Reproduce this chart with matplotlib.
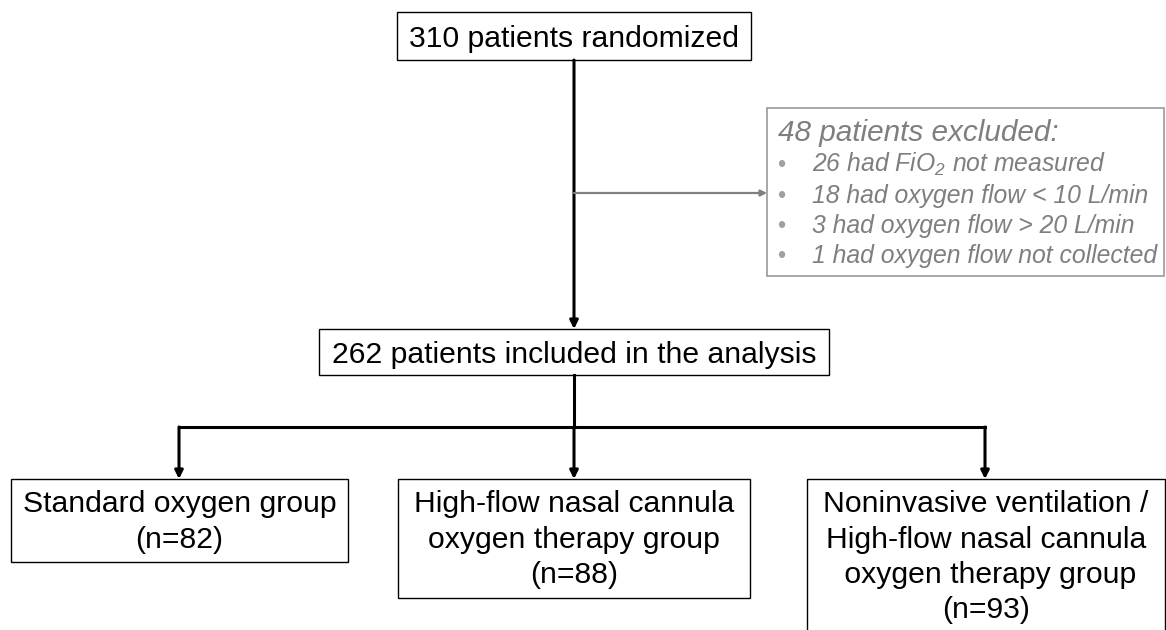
import matplotlib
matplotlib.use('Agg')
import matplotlib.pyplot as plt
from matplotlib.patches import Rectangle

plt.rcParams['font.family'] = ['Liberation Sans', 'DejaVu Sans']
plt.rcParams['mathtext.fontset'] = 'custom'
plt.rcParams['mathtext.rm'] = 'Liberation Sans'
plt.rcParams['mathtext.it'] = 'Liberation Sans:italic'

# data
n_randomized = 310
n_included = 262
n_excluded = 48
excl_counts = [26, 18, 3, 1]
excl_reasons = ['had FiO$_\\mathregular{2}$ not measured', 'had oxygen flow < 10 L/min',
                'had oxygen flow > 20 L/min', 'had oxygen flow not collected']
group_names = ['Standard oxygen group',
               'High-flow nasal cannula\noxygen therapy group',
               'Noninvasive ventilation /\nHigh-flow nasal cannula\n oxygen therapy group']
group_n = [82, 88, 93]

# layout (pixel coords, y downwards)
W, H = 1166, 630
top_box = (397, 12, 751, 60)
mid_box = (319, 329, 829, 375)
excl_box = (767, 108, 1164, 276)
grp_boxes = [(11, 479, 348, 562), (398, 479, 750, 598), (807, 479, 1165, 640)]
grp_x = [179, 574, 985]
trunk_x = 574
branch_y = 427
excl_arrow_y = 193
excl_baselines = [172, 203, 233, 263]

fig = plt.figure(figsize=(W / 100, H / 100), dpi=100)
ax = fig.add_axes([0, 0, 1, 1])
ax.set_xlim(0, W)
ax.set_ylim(H, 0)
ax.axis('off')

black = '#000000'
grey = '#7f7f7f'
FS = 21.7


def box(b, ec=black, lw=1.0):
    x0, y0, x1, y1 = b
    ax.add_patch(Rectangle((x0, y0), x1 - x0, y1 - y0, fill=False, ec=ec, lw=lw, zorder=3))


def arrow(x0, y0, x1, y1, color=black, lw=2.2, ms=12):
    ax.annotate('', xy=(x1, y1), xytext=(x0, y0),
                arrowprops=dict(arrowstyle='-|>', color=color, lw=lw, mutation_scale=ms,
                                shrinkA=0, shrinkB=0), zorder=2)


# main boxes
box(top_box)
ax.text((top_box[0] + top_box[2]) / 2, 47, f'{n_randomized} patients randomized',
        ha='center', va='baseline', fontsize=FS, color=black)
box(mid_box)
ax.text((mid_box[0] + mid_box[2]) / 2, 363, f'{n_included} patients included in the analysis',
        ha='center', va='baseline', fontsize=FS, color=black)

# trunk
arrow(trunk_x, top_box[3], trunk_x, mid_box[1])
arrow(trunk_x, excl_arrow_y, excl_box[0], excl_arrow_y, color=grey, lw=1.6, ms=9)

# exclusion box
box(excl_box, ec='#999999', lw=1.2)
ax.text(778, 141, f'{n_excluded} patients excluded:', ha='left', va='baseline',
        fontsize=21.4, style='italic', color=grey)
for c, r, yb in zip(excl_counts, excl_reasons, excl_baselines):
    ax.text(777, yb, '\u2022', ha='left', va='baseline', fontsize=17, color='#a0a0a0')
    ax.text(812, yb, f'{c} {r}', ha='left', va='baseline', fontsize=17.8,
            style='italic', color=grey)

# branches
ax.plot([trunk_x, trunk_x], [mid_box[3], branch_y], color=black, lw=2.2, zorder=2)
ax.plot([grp_x[0], grp_x[-1]], [branch_y, branch_y], color=black, lw=2.2,
        solid_capstyle='projecting', zorder=2)
for gx, b, name, n in zip(grp_x, grp_boxes, group_names, group_n):
    arrow(gx, branch_y, gx, b[1])
    box(b)
    lines = name.split('\n') + [f'(n={n})']
    for j, line in enumerate(lines):
        ax.text((b[0] + b[2]) / 2, 512 + j * 35.5, line, ha='center', va='baseline',
                fontsize=FS, color=black)

fig.savefig('out.png', dpi=100)
